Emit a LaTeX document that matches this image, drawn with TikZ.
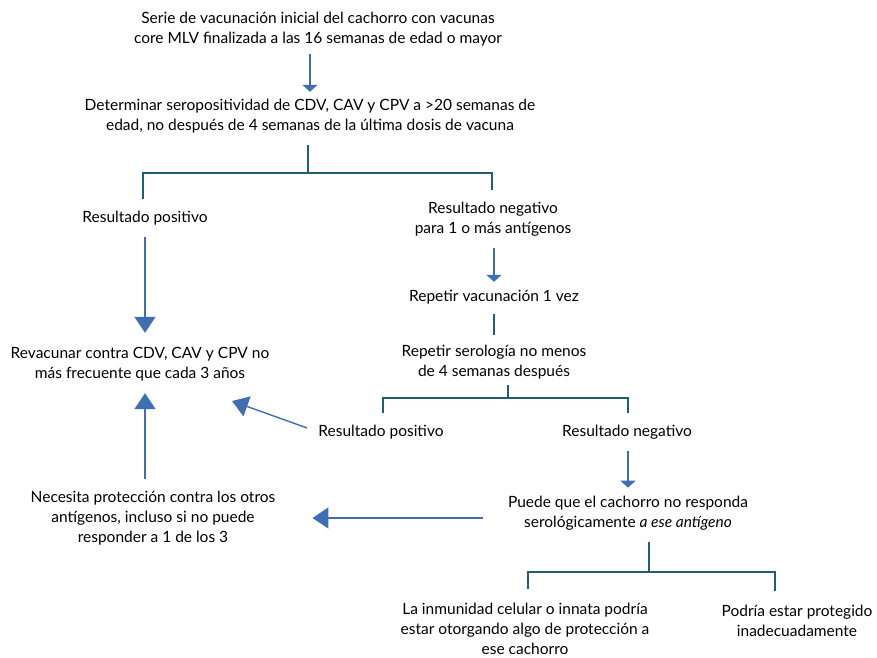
\documentclass[tikz,border=0pt]{standalone}
\usepackage{fontspec}
\setmainfont{Lato}
\usetikzlibrary{arrows.meta}
\definecolor{linkteal}{HTML}{1F5E74}
\definecolor{arrowblue}{HTML}{3F6FB3}
\tikzset{
  txt/.style={align=center, font=\fontsize{15.5}{20}\selectfont, inner sep=0pt},
  elbow/.style={draw=linkteal, line width=1.8pt},
  smallarrow/.style={draw=arrowblue, line width=1.4pt, -{Triangle[width=15pt,length=7pt]}},
  bigarrow/.style={draw=arrowblue, line width=1.4pt, -{Triangle[width=21pt,length=16pt]}},
}
\begin{document}
\begin{tikzpicture}[x=1pt,y=-1pt]
    \useasboundingbox (0,0) rectangle (877,657);
    %% Top of the chart
    \node[txt] (serie) at (318,29) {Serie de vacunación inicial del cachorro con vacunas\\core MLV finalizada a las 16 semanas de edad o mayor};
    \node[txt] (determ) at (310,116) {Determinar seropositividad de CDV, CAV y CPV a >20 semanas de\\edad, no después de 4 semanas de la última dosis de vacuna};
    \node[txt] (pos1) at (145,218) {Resultado positivo};
    \node[txt] (neg1) at (493,219) {Resultado negativo\\para 1 o más antígenos};
    %% Left column
    \node[txt] (revac) at (140,364) {Revacunar contra CDV, CAV y CPV no\\más frecuente que cada 3 años};
    \node[txt] (necesita) at (153,518) {Necesita protección contra los otros\\antígenos, incluso si no puede\\responder a 1 de los 3};
    %% Right column
    \node[txt] (repvac) at (494,297) {Repetir vacunación 1 vez};
    \node[txt] (repser) at (494,362) {Repetir serología no menos\\de 4 semanas después};
    \node[txt] (pos2) at (381,432) {Resultado positivo};
    \node[txt] (neg2) at (627,432) {Resultado negativo};
    \node[txt] (puede) at (628,513) {Puede que el cachorro no responda\\serológicamente \textit{a ese antígeno}};
    \node[txt] (inmun) at (525,629) {La inmunidad celular o innata podría\\estar otorgando algo de protección a\\ese cachorro};
    \node[txt] (prot) at (797,621) {Podría estar protegido\\inadecuadamente};
    %% Junctions
    \coordinate (split1) at (308,173);
    \coordinate (split2) at (508,398);
    \coordinate (split3) at (649,572);
    \coordinate (revacpt) at (232,401);
    %% Connectors
    \draw[smallarrow, shorten <=8pt, shorten >=7pt] (determ.north |- serie.south) -- (determ.north);
    \draw[elbow, shorten <=12pt] (determ.south -| split1) -- (split1);
    \draw[elbow] ([xshift=-2pt,yshift=12pt]pos1.north) |- (split1) -| ([xshift=-1pt,yshift=12pt]neg1.north);
    \draw[bigarrow, shorten <=12pt, shorten >=14pt] (pos1.south) -- (pos1.south |- revac.north);
    \draw[smallarrow, shorten <=12pt, shorten >=8pt] (neg1.south -| repvac.north) -- (repvac.north);
    \draw[elbow, shorten <=10pt, shorten >=10pt] (repvac.south) -- (repser.north);
    \draw[elbow, shorten <=6pt] (repser.south -| split2) -- (split2);
    \draw[elbow] ([xshift=2pt,yshift=12pt]pos2.north) |- (split2) -| ([xshift=1pt,yshift=12pt]neg2.north);
    \draw[bigarrow, shorten <=12pt] (pos2.west) -- (revacpt);
    \draw[bigarrow, shorten <=12pt, shorten >=12pt] (necesita.north -| pos1.south) -- (pos1.south |- revac.south);
    \draw[bigarrow, shorten <=25pt, shorten >=37pt] (puede.west |- necesita.east) -- (necesita.east);
    \draw[smallarrow, shorten <=12pt, shorten >=8pt] (neg2.south -| puede.north) -- (puede.north);
    \draw[elbow, shorten <=12pt] (puede.south -| split3) -- (split3);
    \draw[elbow] ([xshift=3pt,yshift=14pt]inmun.north) |- (split3) -| ([xshift=-22pt,yshift=14pt]prot.north);
\end{tikzpicture}
\end{document}
